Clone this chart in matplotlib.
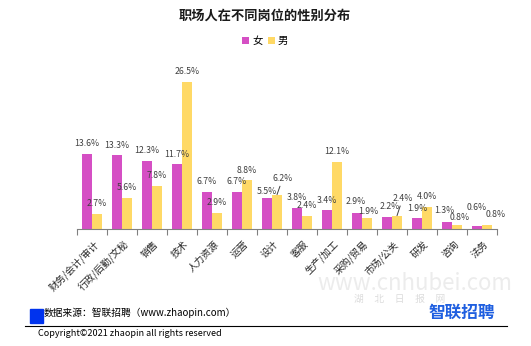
import matplotlib
matplotlib.use("Agg")
import matplotlib.pyplot as plt
from matplotlib.patches import Rectangle
import numpy as np

plt.rcParams['font.family'] = ['Noto Sans CJK SC', 'DejaVu Sans']

categories = ["财务/会计/审计", "行政/后勤/文秘", "销售", "技术", "人力资源", "运营", "设计",
              "客服", "生产/加工", "采购/贸易", "市场/公关", "研发", "咨询", "法务"]
female = [13.6, 13.3, 12.3, 11.7, 6.7, 6.7, 5.5, 3.8, 3.4, 2.9, 2.2, 1.9, 1.3, 0.6]
male = [2.7, 5.6, 7.8, 26.5, 2.9, 8.8, 6.2, 2.4, 12.1, 1.9, 2.4, 4.0, 0.8, 0.8]
series_names = ["女", "男"]

c_f = "#D54FC4"
c_m = "#FFD966"

W, H = 531, 346
fig = plt.figure(figsize=(W / 100, H / 100), dpi=100)

ax = fig.add_axes([77 / W, 117 / H, 420 / W, 166.5 / H])
x = np.arange(len(categories))
bw = 1 / 3
bf = ax.bar(x - bw / 2, female, bw, color=c_f)
bm = ax.bar(x + bw / 2, male, bw, color=c_m)
ax.set_xlim(-0.5, len(categories) - 0.5)
ax.set_ylim(0, 30)
for s in ["top", "right", "left"]:
    ax.spines[s].set_visible(False)
ax.spines["bottom"].set_color("#808080")
ax.set_yticks([])
ax.set_xticks(np.arange(len(categories) + 1) - 0.5, minor=False)
ax.set_xticklabels([])
ax.tick_params(axis="x", length=4, color="#808080", width=0.8)
for i, c in enumerate(categories):
    ax.annotate(c, xy=(i, 0), xycoords="data", xytext=(1, -7), textcoords="offset points",
                rotation=45, ha="right", va="top", rotation_mode="anchor",
                fontsize=7, color="#262626")

f_off = {13: (0, 10), 6: (0, 2), 12: (-2, 5), 9: (-1, 5), 10: (2, 4)}
m_off = {10: (4, 9), 13: (6, 4), 6: (4, 8), 12: (2, 2), 9: (1, 2)}
leader = {10, 6}
for i in range(len(categories)):
    ax.annotate(f"{female[i]:.1f}%", xy=(x[i] - bw / 2, female[i]), xytext=f_off.get(i, (0, 4)),
                textcoords="offset points", ha="center", va="bottom", fontsize=6.3, color="#404040")
    ax.annotate(f"{male[i]:.1f}%", xy=(x[i] + bw / 2, male[i]), xytext=m_off.get(i, (0, 4)),
                textcoords="offset points", ha="center", va="bottom", fontsize=6.3, color="#404040",
                arrowprops=dict(arrowstyle="-", color="#404040", lw=0.7, shrinkA=0, shrinkB=0)
                if i in leader else None)

# title
fig.text(265 / W, 1 - 16 / H, "职场人在不同岗位的性别分布", ha="center", va="center",
         fontsize=9.5, fontweight="bold", color="#1a1a1a")

# legend
leg = fig.legend(handles=[bf, bm], labels=series_names, loc="center",
                 bbox_to_anchor=(265 / W, 1 - 41 / H), ncol=2, frameon=False,
                 fontsize=7.5, handlelength=0.7, handleheight=0.7, handletextpad=0.3,
                 columnspacing=0.5)

# watermark
fig.text(415 / W, 1 - 283 / H, "www.cnhubei.com", ha="center", va="center",
         fontsize=16, color="#ececec")
fig.text(400 / W, 1 - 299 / H, "湖     北     日     报     网", ha="center", va="center",
         fontsize=7, color="#dcdcdc")

# footer
fig.patches.append(Rectangle((30 / W, 1 - 323 / H), 13 / W, 14 / H, transform=fig.transFigure,
                             color="#0033ee", zorder=3))
fig.text(44 / W, 1 - 313 / H, "数据来源：智联招聘（www.zhaopin.com）", ha="left", va="center",
         fontsize=7, color="#000000")
fig.add_artist(plt.Line2D([25 / W, 507 / W], [1 - 326 / H, 1 - 326 / H], transform=fig.transFigure,
                          color="#000000", linewidth=0.8))
fig.text(38 / W, 1 - 334 / H, "Copyright©2021 zhaopin all rights reserved", ha="left", va="center",
         fontsize=6.5, color="#000000")
fig.text(462 / W, 1 - 313 / H, "智联招聘", ha="center", va="center",
         fontsize=12, fontweight="bold", color="#1f5fe0")

fig.savefig("out.png", dpi=100)
